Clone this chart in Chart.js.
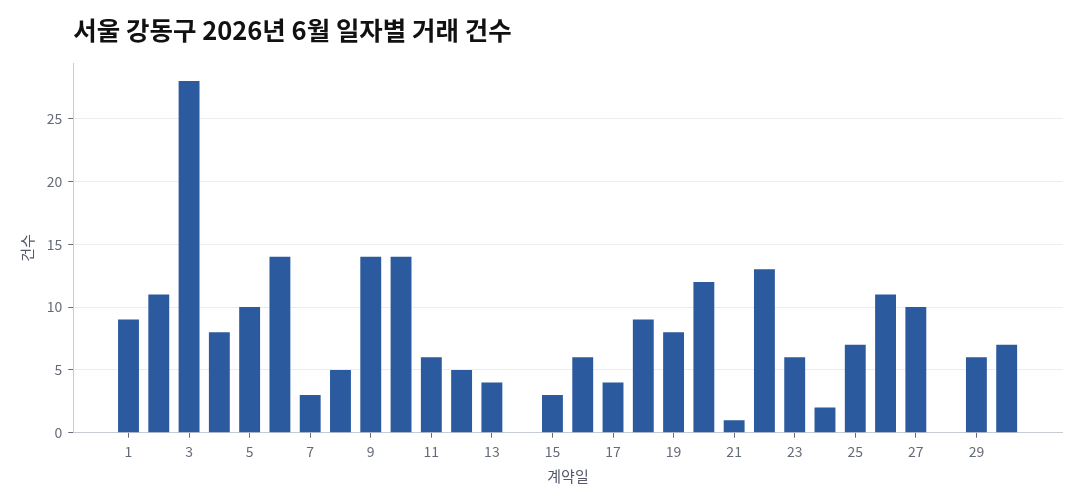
<!DOCTYPE html>
<html>
<head>
<meta charset="utf-8">
<script src="https://cdn.jsdelivr.net/npm/chart.js@4/dist/chart.umd.min.js"></script>
<style>
html,body{margin:0;padding:0;background:#fff;}
#wrap{width:1080px;height:504px;}
</style>
</head>
<body>
<div id="wrap"><canvas id="c" width="1080" height="504"></canvas></div>
<script>
const chartTitle = '서울 강동구 2026년 6월 일자별 거래 건수';
const xTitle = '계약일';
const yTitle = '건수';
const days = [1,2,3,4,5,6,7,8,9,10,11,12,13,14,15,16,17,18,19,20,21,22,23,24,25,26,27,28,29,30];
const counts = [9,11,28,8,10,14,3,5,14,14,6,5,4,0,3,6,4,9,8,12,1,13,6,2,7,11,10,0,6,7];
const xTickValues = [1,3,5,7,9,11,13,15,17,19,21,23,25,27,29];
const yTickValues = [0,5,10,15,20,25];

const FONT = "'Noto Sans CJK KR','Noto Sans',sans-serif";
const tickColor = '#666b78';
const axisColor = '#c6cbd4';

new Chart(document.getElementById('c'), {
  type: 'bar',
  data: {
    datasets: [{
      data: days.map((d, i) => ({x: d, y: counts[i]})),
      backgroundColor: '#2b5a9f',
      borderWidth: 0,
      barPercentage: 0.69,
      categoryPercentage: 1.0
    }]
  },
  options: {
    responsive: false,
    animation: false,
    devicePixelRatio: 1,
    layout: {padding: {top: 0, left: 0, right: 17.3, bottom: 0}},
    plugins: {
      legend: {display: false},
      tooltip: {enabled: false},
      title: {
        display: true,
        text: chartTitle,
        align: 'start',
        fullSize: false,
        color: '#111111',
        font: {family: FONT, size: 25.5, weight: 'bold', lineHeight: 1.2},
        padding: {top: 15.4, bottom: 17.3}
      }
    },
    scales: {
      x: {
        type: 'linear',
        offset: false,
        min: -0.823,
        max: 31.85,
        afterBuildTicks: (s) => { s.ticks = xTickValues.map(v => ({value: v})); },
        afterFit: (s) => { s.height = 71.3; },
        grid: {display: true, offset: false, drawOnChartArea: false, drawTicks: true, tickLength: 5, tickColor: tickColor},
        border: {display: true, color: axisColor, width: 1},
        ticks: {color: tickColor, padding: 6, font: {family: FONT, size: 14}, maxRotation: 0, autoSkip: false},
        title: {display: true, text: xTitle, color: '#55596a', font: {family: FONT, size: 15, lineHeight: 1.2}, padding: {top: 0, bottom: 19}}
      },
      y: {
        type: 'linear',
        min: 0,
        max: 29.4,
        afterBuildTicks: (s) => { s.ticks = yTickValues.map(v => ({value: v})); },
        afterFit: (s) => { s.width = 73.3; },
        grid: {color: '#ececee', lineWidth: 1, drawTicks: true, tickLength: 5, tickColor: tickColor},
        border: {display: true, color: axisColor, width: 1},
        ticks: {color: tickColor, padding: 6, font: {family: FONT, size: 14}},
        title: {display: true, text: yTitle, color: '#55596a', font: {family: FONT, size: 15, lineHeight: 1.2}, padding: {top: 18, bottom: 0}}
      }
    }
  }
});
</script>
</body>
</html>
